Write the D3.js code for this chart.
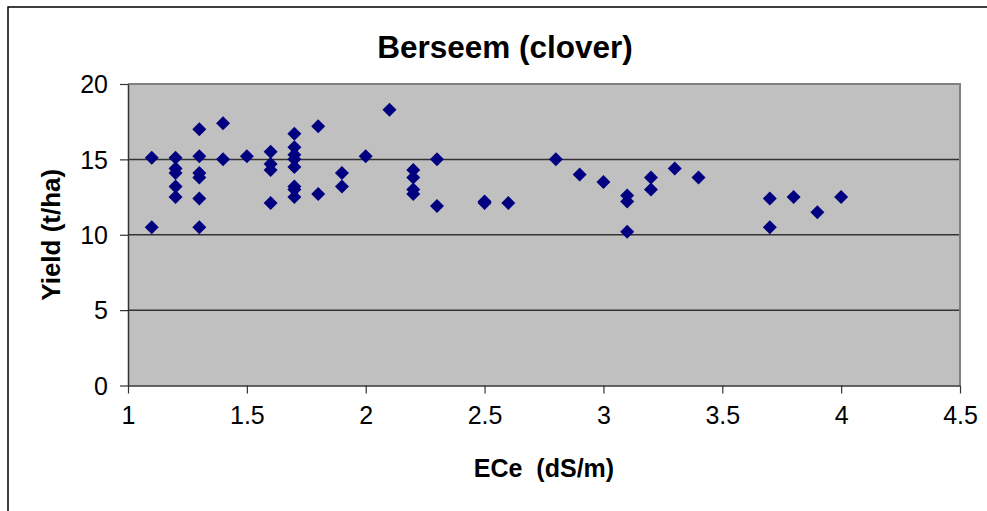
<!DOCTYPE html>
<meta charset="utf-8">
<style>
body { margin: 0; background: white; }
text { font-family: "Liberation Sans", Arial, sans-serif; fill: black; }
</style>
<body>
<script src="https://d3js.org/d3.v7.min.js"></script>
<script>
// ECe (dS/m) and yield (t/ha) pairs
var ece = [
  1.1, 1.1,
  1.2, 1.2, 1.2, 1.2, 1.2,
  1.3, 1.3, 1.3, 1.3, 1.3, 1.3,
  1.4, 1.4,
  1.5,
  1.6, 1.6, 1.6, 1.6,
  1.7, 1.7, 1.7, 1.7, 1.7, 1.7, 1.7, 1.7,
  1.8, 1.8,
  1.9, 1.9,
  2.0,
  2.1,
  2.2, 2.2, 2.2, 2.2,
  2.3, 2.3,
  2.5, 2.5,
  2.6,
  2.8,
  2.9,
  3.0,
  3.1, 3.1, 3.1,
  3.2, 3.2,
  3.3,
  3.4,
  3.7, 3.7,
  3.8,
  3.9,
  4.0
];
var yieldVals = [
  15.1, 10.5,
  15.1, 14.4, 14.1, 13.2, 12.5,
  17.0, 15.2, 14.1, 13.8, 12.4, 10.5,
  17.4, 15.0,
  15.2,
  15.5, 14.7, 14.3, 12.1,
  16.7, 15.8, 15.3, 15.0, 14.5, 13.2, 13.0, 12.5,
  17.2, 12.7,
  14.1, 13.2,
  15.2,
  18.3,
  14.3, 13.8, 13.0, 12.7,
  15.0, 11.9,
  12.1, 12.2,
  12.1,
  15.0,
  14.0,
  13.5,
  12.6, 12.2, 10.2,
  13.8, 13.0,
  14.4,
  13.8,
  12.4, 10.5,
  12.5,
  11.5,
  12.5
];
var xTicks = [1, 1.5, 2, 2.5, 3, 3.5, 4, 4.5];
var yTicks = [0, 5, 10, 15, 20];

var width = 987,
    height = 511;

var margin = {top: 84, left: 128, right: 27, bottom: 125.5};
var pw = width - margin.left - margin.right,
    ph = height - margin.top - margin.bottom;

var svg = d3.select("body").append("svg")
    .attr("width", width)
    .attr("height", height);

// outer chart frame (runs off the bottom and right of the picture)
svg.append("rect")
    .attr("x", 8).attr("y", 7)
    .attr("width", 1000).attr("height", 600)
    .attr("fill", "white")
    .attr("stroke", "black")
    .attr("stroke-width", 1.5);

var x = d3.scaleLinear().domain([1, 4.5]).range([0, pw]);
var y = d3.scaleLinear().domain([0, 20]).range([ph, 0]);

var g = svg.append("g")
    .attr("transform", "translate(" + margin.left + "," + margin.top + ")");

g.append("rect")
    .attr("width", pw).attr("height", ph)
    .attr("fill", "#c0c0c0");

// gridlines
g.selectAll(".grid")
    .data(yTicks.filter(function(d) { return d > 0 && d < 20; }))
  .enter().append("line")
    .attr("x1", 0).attr("x2", pw)
    .attr("y1", function(d) { return y(d); })
    .attr("y2", function(d) { return y(d); })
    .attr("stroke", "#333")
    .attr("stroke-width", 1.5);

// grey top/right border of plot area
g.append("path")
    .attr("d", "M0," + y(20) + "H" + pw + "V" + ph)
    .attr("fill", "none")
    .attr("stroke", "#808080")
    .attr("stroke-width", 2);

var xAxis = g.append("g")
    .attr("transform", "translate(0," + ph + ")")
    .call(d3.axisBottom(x).tickValues(xTicks).tickSize(8).tickSizeOuter(0)
      .tickFormat(d3.format("")));
var yAxis = g.append("g")
    .call(d3.axisLeft(y).tickValues(yTicks).tickSize(8).tickSizeOuter(0));

[xAxis, yAxis].forEach(function(a) {
  a.select(".domain").attr("stroke", "#333").attr("stroke-width", 1.5);
  a.selectAll(".tick line").attr("stroke", "#333").attr("stroke-width", 1.2);
  a.selectAll(".tick text")
      .attr("font-size", 25)
      .attr("font-family", "'Liberation Sans', Arial, sans-serif");
});
xAxis.selectAll(".tick text").attr("dy", null).attr("y", 38);
yAxis.selectAll(".tick text").attr("x", -20).attr("dy", "0.35em");

// points
var diamond = d3.symbol().type(d3.symbolSquare).size(98);
g.selectAll(".pt")
    .data(ece.map(function(d, i) { return [d, yieldVals[i]]; }))
  .enter().append("path")
    .attr("d", diamond)
    .attr("transform", function(d) {
      return "translate(" + x(d[0]) + "," + y(d[1]) + ") rotate(45)";
    })
    .attr("fill", "#000080");

// titles
svg.append("text")
    .attr("x", 505).attr("y", 58)
    .attr("text-anchor", "middle")
    .attr("font-weight", "bold")
    .attr("font-size", 31.5)
    .text("Berseem (clover)");

svg.append("text")
    .attr("x", margin.left + pw / 2).attr("y", 477)
    .attr("text-anchor", "middle")
    .attr("font-weight", "bold")
    .attr("font-size", 25)
    .attr("xml:space", "preserve")
    .text("ECe  (dS/m)");

svg.append("text")
    .attr("transform", "translate(60," + (margin.top + ph / 2) + ") rotate(-90)")
    .attr("text-anchor", "middle")
    .attr("font-weight", "bold")
    .attr("font-size", 26)
    .text("Yield (t/ha)");
</script>
</body>
</html>
